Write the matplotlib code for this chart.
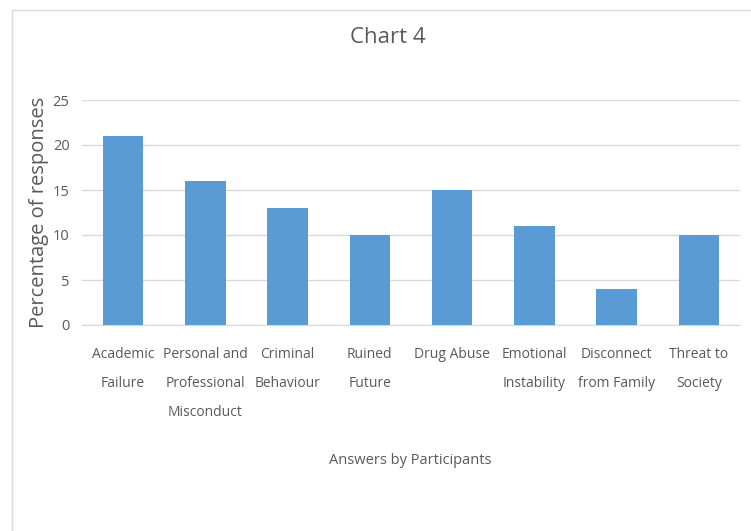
import matplotlib.pyplot as plt
from matplotlib.patches import Rectangle

categories = ['Academic\nFailure', 'Personal and\nProfessional\nMisconduct', 'Criminal\nBehaviour',
              'Ruined\nFuture', 'Drug Abuse', 'Emotional\nInstability', 'Disconnect\nfrom Family',
              'Threat to\nSociety']
values = [21, 16, 13, 10, 15, 11, 4, 10]
yticks = [0, 5, 10, 15, 20, 25]

font = ['Open Sans', 'DejaVu Sans']
grey = '#595959'

fig = plt.figure(figsize=(7.51, 5.31), dpi=100)
fig.patches.append(Rectangle((12/751, -0.01), 1.0, 1 - 10/531 + 0.01, transform=fig.transFigure,
                             fill=False, edgecolor='#d9d9d9', linewidth=1))
ax = fig.add_axes([82/751, 1 - 325/531, 658/751, 225/531])

x = range(len(categories))
ax.bar(x, values, width=0.49, color='#5B9BD5', zorder=3)
ax.set_ylim(0, 25)
ax.set_xlim(-0.5, len(categories) - 0.5)
ax.set_yticks(yticks)
ax.yaxis.grid(True, color='#d9d9d9', linewidth=1, zorder=0)
for s in ['top', 'right', 'left']:
    ax.spines[s].set_visible(False)
ax.spines['bottom'].set_color('#d9d9d9')
ax.tick_params(axis='y', length=0, colors=grey, pad=9)
ax.tick_params(axis='x', length=0, colors=grey, pad=16)
ax.set_xticks(list(x))
ax.set_xticklabels(categories, family=font, fontsize=10, linespacing=2.25, color=grey, va='top')
for lab in ax.get_yticklabels():
    lab.set_family(font)
    lab.set_fontsize(10.5)

ax.set_ylabel('Percentage of responses', family=font, fontsize=14.5, color=grey)
ax.yaxis.set_label_coords(-33/658, 0.50)
fig.text(388/751, 1 - 37/531, 'Chart 4', family=font, fontsize=16, color=grey, ha='center', va='center')
fig.text(410/751, 1 - 460/531, 'Answers by Participants', family=font, fontsize=10.5, color=grey,
         ha='center', va='center')

fig.savefig('out.png', dpi=100)
